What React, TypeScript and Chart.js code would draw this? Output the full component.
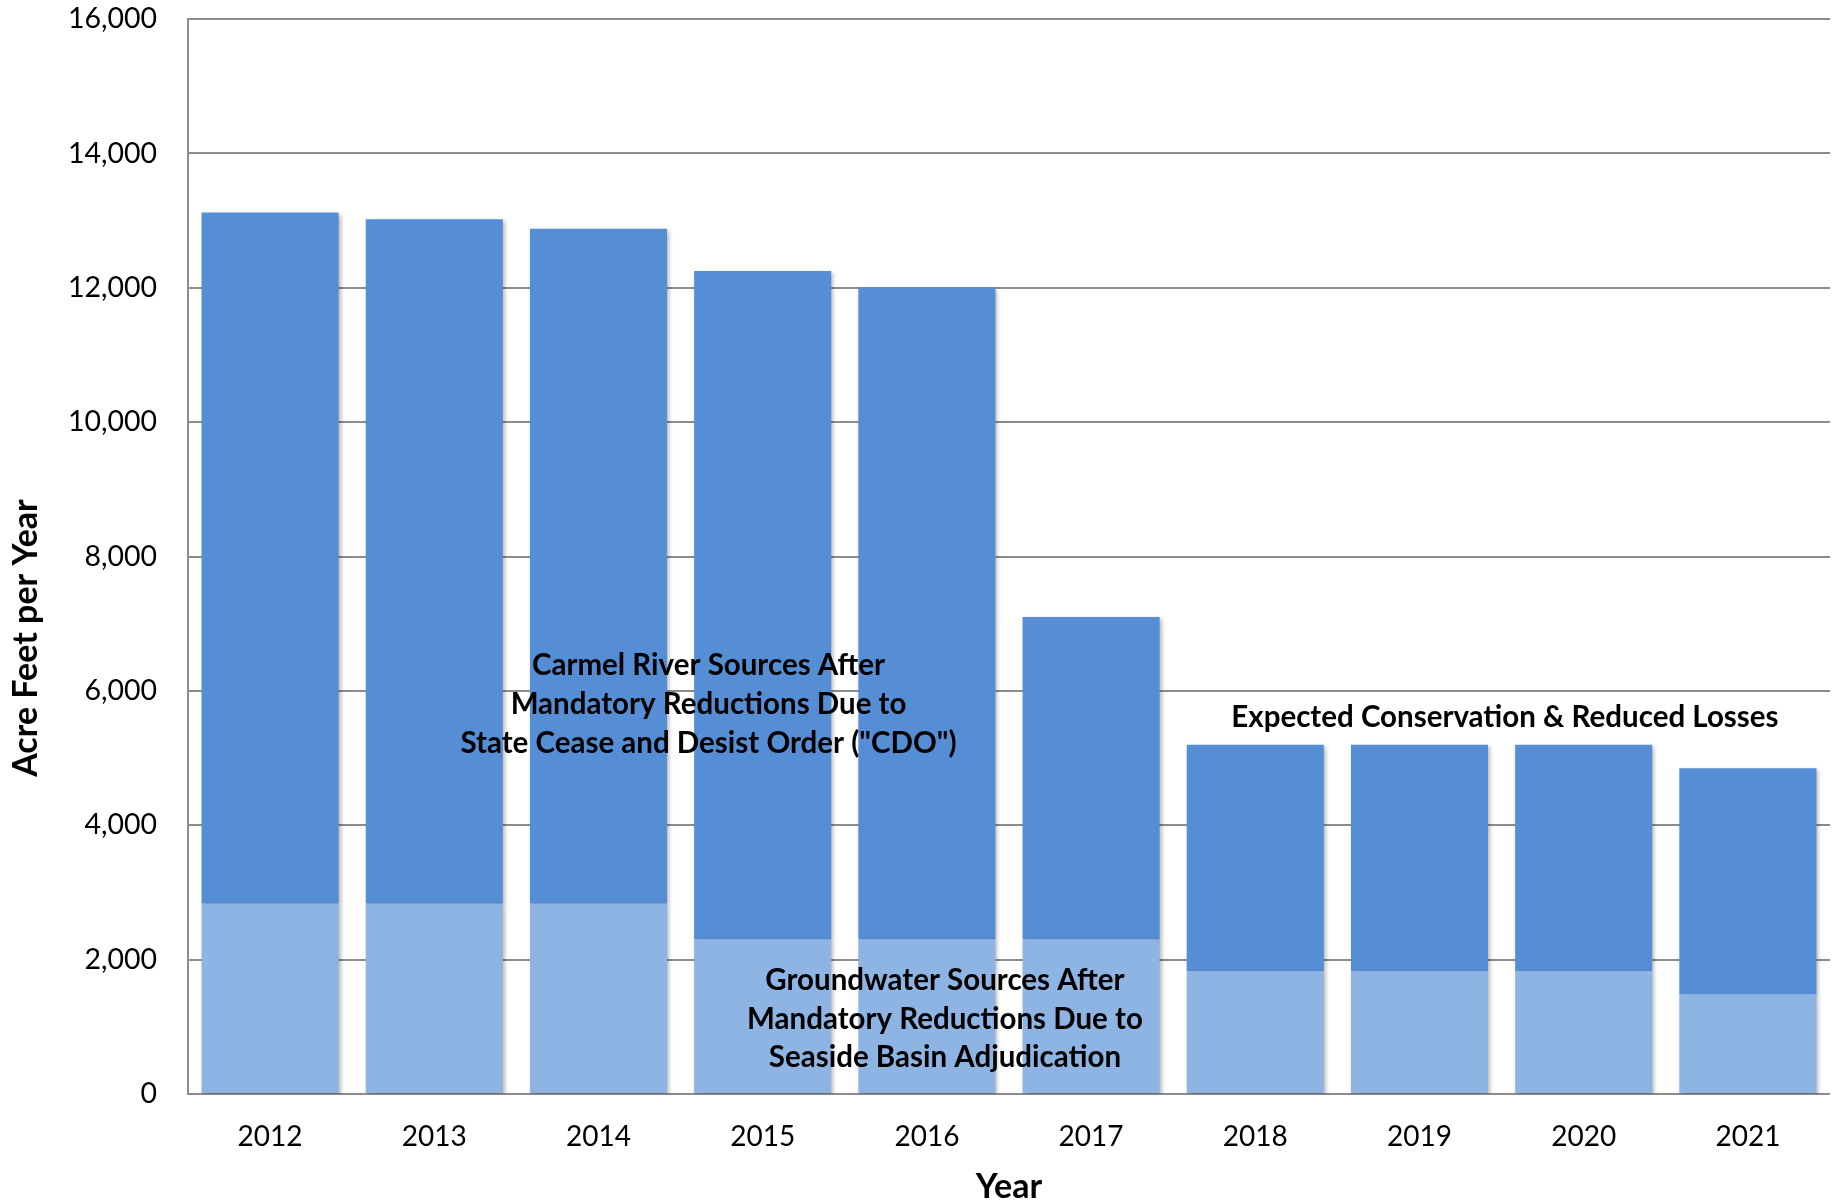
import React, { useEffect, useRef } from "react";
import { Chart, registerables } from "chart.js";

Chart.register(...registerables);

// ---- Data ----
const years = ["2012", "2013", "2014", "2015", "2016", "2017", "2018", "2019", "2020", "2021"];
// Lower (lighter) segment: groundwater sources
const groundwater = [2830, 2830, 2830, 2300, 2300, 2300, 1830, 1830, 1830, 1480];
// Upper (darker) segment: Carmel River sources
const carmelRiver = [10290, 10190, 10050, 9950, 9700, 4800, 3370, 3370, 3370, 3370];

const yMin = 0;
const yMax = 16000;
const yStep = 2000;

const yTitle = "Acre Feet per Year";
const xTitle = "Year";

// Annotation texts anchored in data coordinates (category index, value)
const annotationCarmel = ["Carmel River Sources After", "Mandatory Reductions Due to", 'State Cease and Desist Order ("CDO")'];
const annotationConservation = ["Expected Conservation & Reduced Losses"];
const annotationGroundwater = ["Groundwater Sources After", "Mandatory Reductions Due to", "Seaside Basin Adjudication"];
const annotations = [
  { lines: annotationCarmel, xIndex: 2.67, yValue: 5800 },
  { lines: annotationConservation, xIndex: 7.52, yValue: 5610 },
  { lines: annotationGroundwater, xIndex: 4.11, yValue: 1116 },
];

const FONT = "Lato, 'Open Sans', 'Liberation Sans', sans-serif";
const DARK = "#558ED5";
const LIGHT = "#8EB4E3";
const GRID = "#8C8C8C";

const shadowPlugin = {
  id: "barShadow",
  beforeDatasetsDraw(chart: any) {
    const ctx = chart.ctx;
    ctx.save();
    ctx.shadowColor = "rgba(0,0,0,0.28)";
    ctx.shadowBlur = 4;
    ctx.shadowOffsetX = 2;
    ctx.shadowOffsetY = 2;
  },
  afterDatasetsDraw(chart: any) {
    chart.ctx.restore();
  },
};

const textPlugin = {
  id: "annotText",
  afterDatasetsDraw(chart: any) {
    const ctx = chart.ctx;
    const xs = chart.scales.x;
    const ys = chart.scales.y;
    ctx.save();
    ctx.fillStyle = "#000";
    ctx.textAlign = "center";
    ctx.textBaseline = "middle";
    ctx.font = `bold 29.5px ${FONT}`;
    const lh = 38.7;
    for (const a of annotations) {
      const cx = xs.getPixelForValue(a.xIndex);
      const cy = ys.getPixelForValue(a.yValue);
      const n = a.lines.length;
      a.lines.forEach((line: string, i: number) => {
        ctx.fillText(line, cx, cy + (i - (n - 1) / 2) * lh);
      });
    }
    // y-axis title
    ctx.translate(26, 638);
    ctx.rotate(-Math.PI / 2);
    ctx.font = `bold 34px ${FONT}`;
    ctx.fillText(yTitle, 0, 0);
    ctx.restore();
  },
};

export default function App() {
  const ref = useRef<HTMLCanvasElement | null>(null);

  useEffect(() => {
    if (!ref.current) return;
    const chart = new Chart(ref.current, {
      type: "bar",
      data: {
        labels: years,
        datasets: [
          {
            label: "Groundwater Sources",
            data: groundwater,
            backgroundColor: LIGHT,
            borderWidth: 0,
            categoryPercentage: 1,
            barPercentage: 0.835,
          },
          {
            label: "Carmel River Sources",
            data: carmelRiver,
            backgroundColor: DARK,
            borderWidth: 0,
            categoryPercentage: 1,
            barPercentage: 0.835,
          },
        ],
      },
      options: {
        responsive: false,
        animation: false,
        layout: { padding: { top: 19, right: 9, left: 0, bottom: 0 } },
        plugins: {
          legend: { display: false },
          tooltip: { enabled: false },
          title: { display: false },
        },
        scales: {
          x: {
            stacked: true,
            grid: { display: false, drawTicks: false },
            border: { display: false },
            ticks: {
              color: "#000",
              font: { family: FONT, size: 28 },
              padding: 26,
            },
            title: {
              display: true,
              text: xTitle,
              color: "#000",
              font: { family: FONT, size: 34, weight: "bold" },
              padding: { top: 0, bottom: -5 },
            },
            afterFit(scale: any) {
              scale.height = 108;
              scale.paddingLeft = 0;
              scale.paddingRight = 0;
            },
          },
          y: {
            stacked: true,
            min: yMin,
            max: yMax,
            ticks: {
              stepSize: yStep,
              color: "#000",
              font: { family: FONT, size: 28.5 },
              padding: 31,
              callback: (v: any) => Number(v).toLocaleString("en-US"),
            },
            grid: { color: GRID, lineWidth: 2, drawTicks: false },
            border: { display: true, color: GRID, width: 2 },
            afterFit(scale: any) {
              scale.width = 188;
              scale.paddingTop = 0;
              scale.paddingBottom = 0;
            },
          },
        },
      },
      plugins: [shadowPlugin, textPlugin],
    } as any);
    return () => chart.destroy();
  }, []);

  return (
    <div style={{ position: "fixed", left: 0, top: 0, width: 1839, height: 1202, background: "#fff" }}>
      <canvas ref={ref} width={1839} height={1202} style={{ display: "block" }} />
    </div>
  );
}
